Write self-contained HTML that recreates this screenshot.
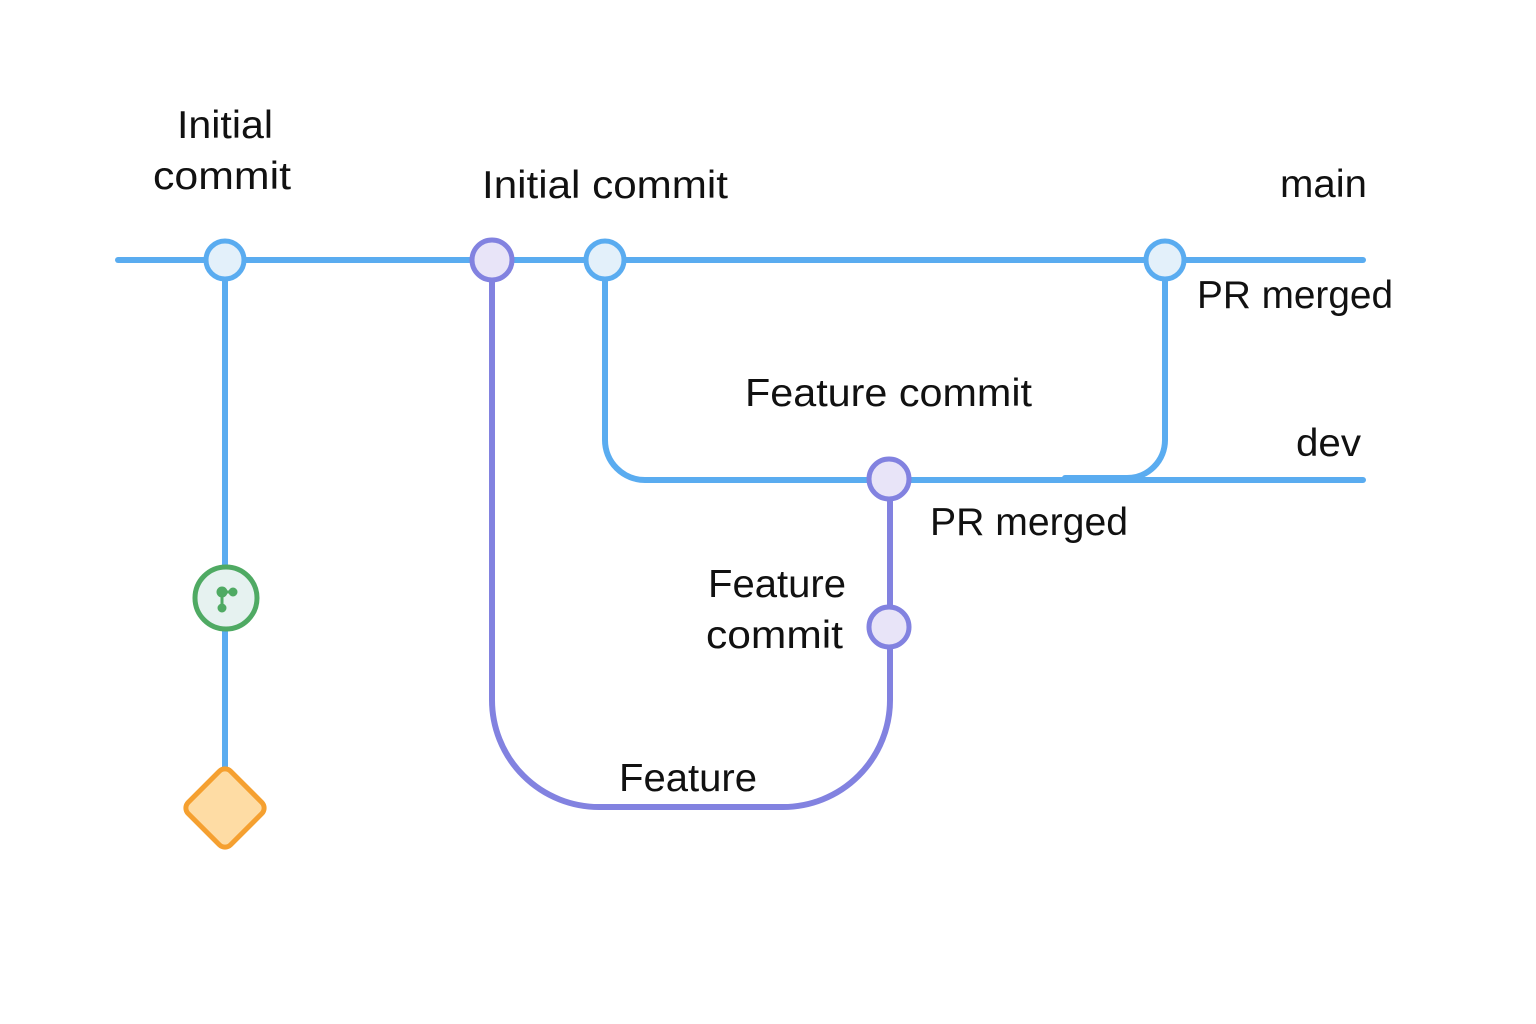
<!DOCTYPE html>
<html><head><meta charset="utf-8"><style>
html,body{margin:0;padding:0;background:#fff}
svg{display:block}
text{font-family:"Liberation Sans",sans-serif;font-size:39px;fill:#111}
</style></head><body>
<svg width="1536" height="1024" viewBox="0 0 1536 1024" xmlns="http://www.w3.org/2000/svg">
<g fill="none" stroke-width="6" stroke-linecap="round">
<path d="M492 260 V700 A107 107 0 0 0 599 807 H783 A107 107 0 0 0 890 700 V480" stroke="#8282e0"/>
<path d="M118 260 H1363" stroke="#5aacf0"/>
<path d="M225 260 V772" stroke="#5aacf0"/>
<path d="M605 260 V440 A40 40 0 0 0 645 480 H1363" stroke="#5aacf0"/>
<path d="M1165 260 V440 A38 38 0 0 1 1127 478 H1065" stroke="#5aacf0"/>
</g>
<g stroke-width="5">
<circle cx="225" cy="260" r="19" fill="#e3f0fa" stroke="#5aacf0"/>
<circle cx="492" cy="260" r="20" fill="#e8e4f8" stroke="#8282e0"/>
<circle cx="605" cy="260" r="19" fill="#e3f0fa" stroke="#5aacf0"/>
<circle cx="1165" cy="260" r="19" fill="#e3f0fa" stroke="#5aacf0"/>
<circle cx="889" cy="479" r="20" fill="#e8e4f8" stroke="#8282e0"/>
<circle cx="889" cy="627" r="20" fill="#e8e4f8" stroke="#8282e0"/>
<circle cx="226" cy="598" r="31" fill="#e6f2f0" stroke="#4faa63"/>
<rect x="195" y="778" width="60" height="60" rx="8" transform="rotate(45 225 808)" fill="#fedca4" stroke="#f5a030"/>
</g>
<g fill="#4faa63" stroke="#4faa63" stroke-width="3">
<circle cx="222" cy="592" r="4"/><circle cx="222" cy="608" r="3"/><circle cx="233" cy="592" r="3"/>
<line x1="222" y1="592" x2="222" y2="608"/><line x1="222" y1="592" x2="233" y2="592"/>
</g>
<g>
<text x="177" y="138" textLength="96" lengthAdjust="spacingAndGlyphs">Initial</text>
<text x="153" y="189" textLength="138" lengthAdjust="spacingAndGlyphs">commit</text>
<text x="482" y="198" textLength="246" lengthAdjust="spacingAndGlyphs">Initial commit</text>
<text x="1280" y="197" textLength="87" lengthAdjust="spacingAndGlyphs">main</text>
<text x="1197" y="308" textLength="196" lengthAdjust="spacingAndGlyphs">PR merged</text>
<text x="745" y="406" textLength="287" lengthAdjust="spacingAndGlyphs">Feature commit</text>
<text x="1296" y="456" textLength="65" lengthAdjust="spacingAndGlyphs">dev</text>
<text x="930" y="535" textLength="198" lengthAdjust="spacingAndGlyphs">PR merged</text>
<text x="708" y="597" textLength="138" lengthAdjust="spacingAndGlyphs">Feature</text>
<text x="706" y="648" textLength="137" lengthAdjust="spacingAndGlyphs">commit</text>
<text x="619" y="791" textLength="138" lengthAdjust="spacingAndGlyphs">Feature</text>
</g>
</svg>
</body></html>
